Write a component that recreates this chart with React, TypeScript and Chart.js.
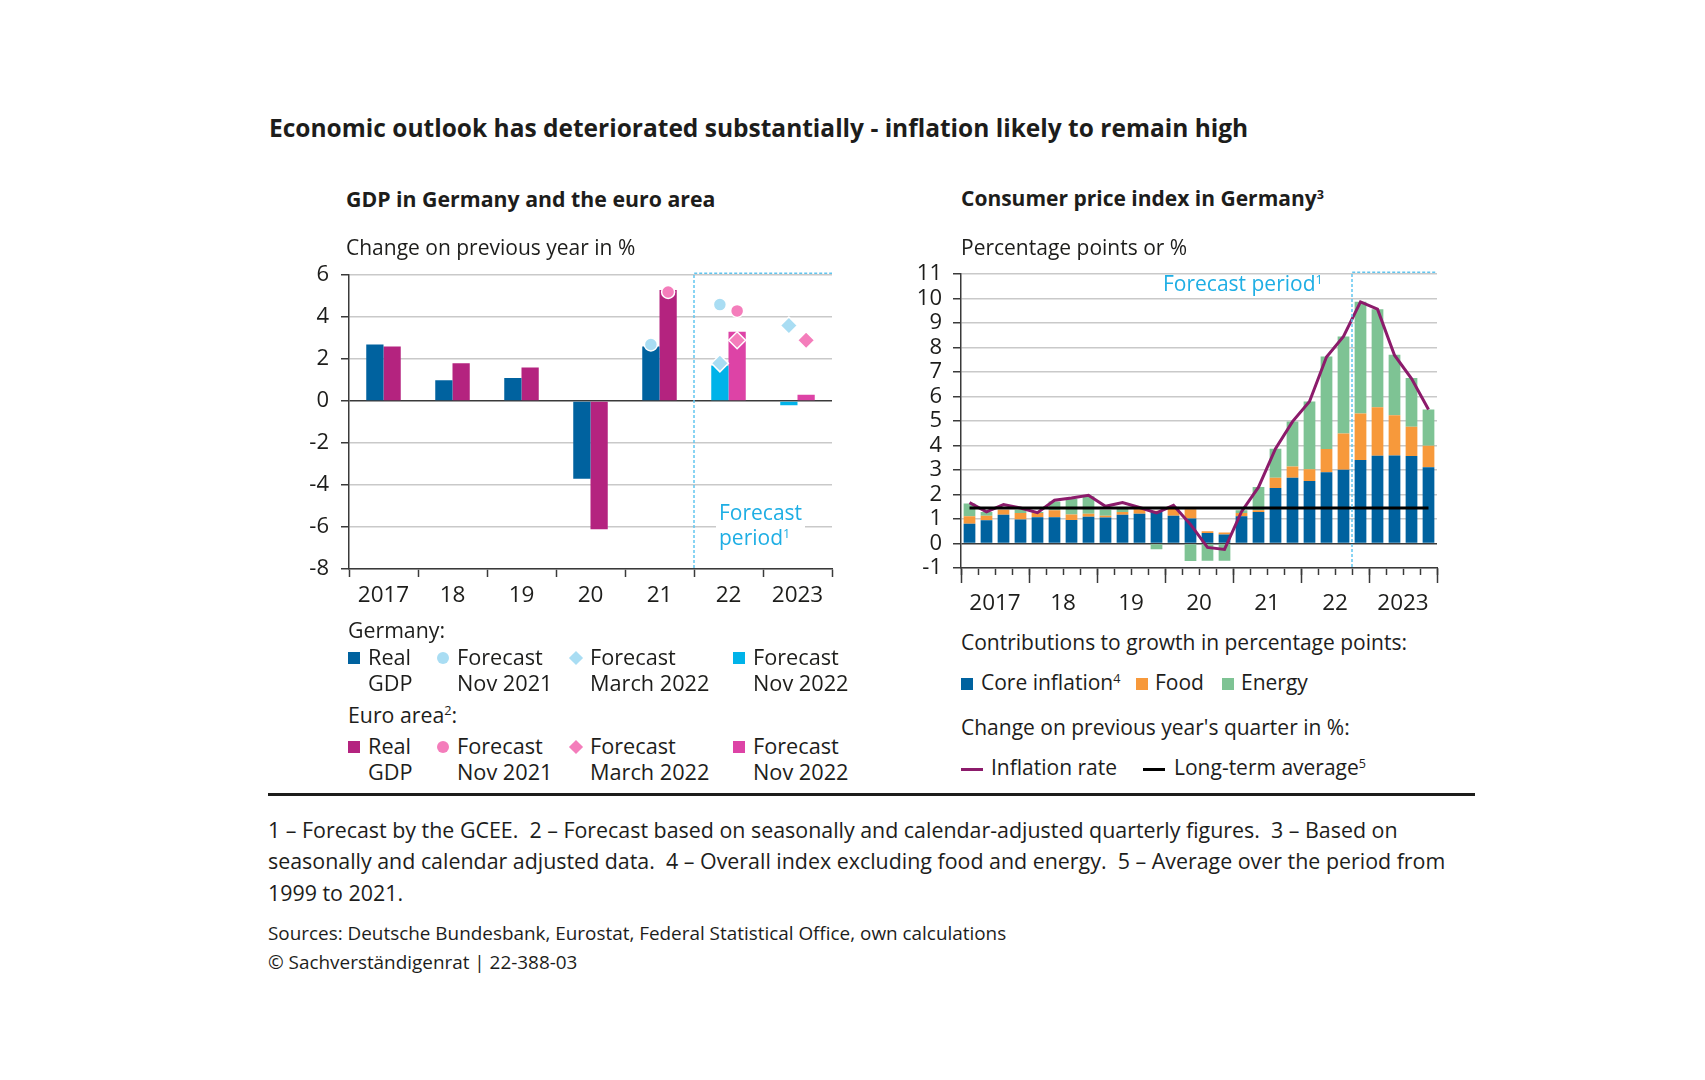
import React, { useEffect, useRef } from 'react';
import { Chart, registerables } from 'chart.js';

Chart.register(...registerables);

// ---------------- data ----------------
const gdpYears = ['2017', '18', '19', '20', '21', '22', '2023'];
const gdpForecastStart = '22';
const deRealGdp = [2.7, 1.0, 1.1, -3.7, 2.6, null, null];
const eaRealGdp = [2.6, 1.8, 1.6, -6.1, 5.3, null, null];
const deForecastNov2022 = [null, null, null, null, null, 1.7, -0.2];
const eaForecastNov2022 = [null, null, null, null, null, 3.3, 0.3];
const deForecastNov2021 = [null, null, null, null, 2.7, 4.6, null];
const eaForecastNov2021 = [null, null, null, null, 5.2, 4.3, null];
const deForecastMar2022 = [null, null, null, null, null, 1.8, 3.6];
const eaForecastMar2022 = [null, null, null, null, null, 2.9, 2.9];

const cpiQuarters = [
  '2017 Q1', '2017 Q2', '2017 Q3', '2017 Q4',
  '2018 Q1', '2018 Q2', '2018 Q3', '2018 Q4',
  '2019 Q1', '2019 Q2', '2019 Q3', '2019 Q4',
  '2020 Q1', '2020 Q2', '2020 Q3', '2020 Q4',
  '2021 Q1', '2021 Q2', '2021 Q3', '2021 Q4',
  '2022 Q1', '2022 Q2', '2022 Q3', '2022 Q4',
  '2023 Q1', '2023 Q2', '2023 Q3', '2023 Q4',
];
const cpiYearLabels = ['2017', '18', '19', '20', '21', '22', '2023'];
const cpiForecastStart = '2022 Q4';
const coreInflation = [0.81, 0.95, 1.18, 0.98, 1.07, 1.07, 0.96, 1.09, 1.06, 1.18, 1.22, 1.29, 1.13, 1.02, 0.43, 0.37, 1.11, 1.29, 2.27, 2.69, 2.55, 2.91, 3.01, 3.41, 3.58, 3.6, 3.57, 3.12];
const foodContribution = [0.3, 0.18, 0.2, 0.27, 0.18, 0.29, 0.23, 0.13, 0.07, 0.11, 0.18, 0.05, 0.3, 0.38, 0.07, 0.08, 0.14, 0.07, 0.42, 0.46, 0.48, 0.95, 1.48, 1.9, 1.99, 1.64, 1.2, 0.87];
const energyContribution = [0.52, 0.16, 0.0, 0.13, 0.04, 0.36, 0.64, 0.71, 0.25, 0.18, 0.05, -0.23, 0.07, -0.71, -0.7, -0.7, 0.11, 0.95, 1.18, 1.83, 2.77, 3.78, 3.97, 4.56, 4.0, 2.47, 1.99, 1.48];
const inflationRate = [1.67, 1.29, 1.59, 1.45, 1.26, 1.77, 1.86, 1.97, 1.52, 1.67, 1.47, 1.25, 1.56, 0.78, -0.16, -0.24, 1.3, 2.3, 3.87, 4.98, 5.8, 7.62, 8.46, 9.87, 9.57, 7.69, 6.74, 5.47];
const longTermAverage = 1.45;

// ---------------- styles ----------------
const FONT = '"Open Sans", "Noto Sans", Arial, sans-serif';
const INK = '#1d1d1b';
const GRID = '#c9c9c9';
const AXIS = '#3a3a3a';
const DE_BLUE = '#00629f';
const EA_PURPLE = '#b4237f';
const DE_FC = '#00b3e9';
const EA_FC = '#dd43a6';
const DE_LIGHT = '#a9ddf3';
const EA_LIGHT = '#f47dbb';
const CORE = '#00629f';
const FOOD = '#f7993b';
const ENERGY = '#7ec394';
const INFL = '#8c1b6b';
const FC_TEXT = '#1eaee4';
const FC_LINE = '#62c6ef';

Chart.defaults.font.family = FONT;
Chart.defaults.color = INK;

const yGridColor = (ctx: any) => (ctx.tick && ctx.tick.value === 0 ? AXIS : GRID);

function forecastBox(startLabel: string) {
  return {
    id: 'forecastBox',
    afterDatasetsDraw(chart: any) {
      const x = chart.scales.x;
      const i = x.getLabels().indexOf(startLabel);
      const bx = (x.getPixelForValue(i - 1) + x.getPixelForValue(i)) / 2;
      const { top, bottom, right } = chart.chartArea;
      const ctx = chart.ctx;
      ctx.save();
      ctx.strokeStyle = FC_LINE;
      ctx.lineWidth = 1.5;
      ctx.setLineDash([3, 2]);
      ctx.beginPath();
      ctx.moveTo(bx, bottom - 1);
      ctx.lineTo(bx, top - 2);
      ctx.lineTo(right, top - 2);
      ctx.stroke();
      ctx.restore();
    },
  };
}

const alignMarkers = {
  id: 'alignMarkers',
  afterDatasetsUpdate(chart: any) {
    const sets = chart.data.datasets;
    sets.forEach((ds: any, di: number) => {
      if (!ds.alignGroup) return;
      const meta = chart.getDatasetMeta(di);
      meta.data.forEach((pt: any, i: number) => {
        const bi = sets.findIndex((b: any) => b.barGroup === ds.alignGroup && b.data[i] != null);
        if (bi < 0) return;
        const bar = chart.getDatasetMeta(bi).data[i];
        if (bar) pt.x = bar.x;
      });
    });
  },
};

function marker(label: string, data: any[], group: string, style: string, color: string) {
  return {
    type: 'line',
    label,
    data,
    alignGroup: group,
    showLine: false,
    pointStyle: style,
    pointRadius: style === 'circle' ? 6.5 : 8.5,
    pointBackgroundColor: color,
    pointBorderColor: '#ffffff',
    pointBorderWidth: 1.5,
    order: 0,
  };
}

function GdpChart() {
  const ref = useRef<HTMLCanvasElement>(null);
  useEffect(() => {
    const chart = new Chart(ref.current as HTMLCanvasElement, {
      type: 'bar',
      data: {
        labels: gdpYears,
        datasets: [
          marker('Germany: Forecast Nov 2021', deForecastNov2021, 'DE', 'circle', DE_LIGHT),
          marker('Euro area: Forecast Nov 2021', eaForecastNov2021, 'EA', 'circle', EA_LIGHT),
          marker('Germany: Forecast March 2022', deForecastMar2022, 'DE', 'rectRot', DE_LIGHT),
          marker('Euro area: Forecast March 2022', eaForecastMar2022, 'EA', 'rectRot', EA_LIGHT),
          { label: 'Germany: Real GDP', data: deRealGdp, barGroup: 'DE', backgroundColor: DE_BLUE, order: 1 },
          { label: 'Euro area: Real GDP', data: eaRealGdp, barGroup: 'EA', backgroundColor: EA_PURPLE, order: 1 },
          { label: 'Germany: Forecast Nov 2022', data: deForecastNov2022, barGroup: 'DE', backgroundColor: DE_FC, order: 1 },
          { label: 'Euro area: Forecast Nov 2022', data: eaForecastNov2022, barGroup: 'EA', backgroundColor: EA_FC, order: 1 },
        ] as any,
      },
      options: {
        responsive: false,
        animation: false,
        layout: { padding: { top: 24, right: 13, bottom: 0, left: 0 } },
        plugins: { legend: { display: false }, tooltip: { enabled: false } },
        datasets: { bar: { skipNull: true, categoryPercentage: 0.5, barPercentage: 1, borderWidth: 0 } } as any,
        scales: {
          x: {
            grid: { drawOnChartArea: false, drawTicks: true, tickLength: 8, tickColor: AXIS, tickWidth: 1.5, offset: true },
            border: { color: AXIS, width: 1.5 },
            ticks: { color: INK, font: { family: FONT, size: 22.5 }, padding: 5, maxRotation: 0, autoSkip: false },
            afterFit: (s: any) => { s.height = 51; },
          },
          y: {
            min: -8,
            max: 6,
            ticks: { stepSize: 2, color: INK, font: { family: FONT, size: 22 }, padding: 12, autoSkip: false },
            grid: { color: yGridColor, lineWidth: 1.5, tickColor: AXIS, tickLength: 8, tickWidth: 1.5 },
            border: { color: AXIS, width: 1.5 },
            afterFit: (s: any) => { s.width = 79; },
          },
        },
      } as any,
      plugins: [alignMarkers, forecastBox(gdpForecastStart)],
    });
    return () => chart.destroy();
  }, []);
  return (
    <canvas ref={ref} width={575} height={370}
      style={{ position: 'absolute', left: 270, top: 250, width: 575, height: 370 }} />
  );
}

function CpiChart() {
  const ref = useRef<HTMLCanvasElement>(null);
  useEffect(() => {
    const chart = new Chart(ref.current as HTMLCanvasElement, {
      type: 'bar',
      data: {
        labels: cpiQuarters,
        datasets: [
          {
            type: 'line', label: 'Long-term average', stack: 'avg', xAxisID: 'x',
            data: [
              { x: cpiQuarters[0], y: longTermAverage },
              { x: cpiQuarters[cpiQuarters.length - 1], y: longTermAverage },
            ],
            borderColor: '#000000', borderWidth: 3, pointRadius: 0, order: 0,
          },
          {
            type: 'line', label: 'Inflation rate', stack: 'infl', xAxisID: 'x',
            data: inflationRate, borderColor: INFL, borderWidth: 3, pointRadius: 0, tension: 0, order: 1,
          },
          { label: 'Core inflation', data: coreInflation, backgroundColor: CORE, xAxisID: 'x', order: 2 },
          { label: 'Food', data: foodContribution, backgroundColor: FOOD, xAxisID: 'x', order: 2 },
          { label: 'Energy', data: energyContribution, backgroundColor: ENERGY, xAxisID: 'x', order: 2 },
        ] as any,
      },
      options: {
        responsive: false,
        animation: false,
        layout: { padding: { top: 23, right: 18, bottom: 0, left: 0 } },
        plugins: { legend: { display: false }, tooltip: { enabled: false } },
        datasets: { bar: { categoryPercentage: 1, barPercentage: 0.69, borderWidth: 0 } } as any,
        scales: {
          x: {
            stacked: true,
            grid: { drawOnChartArea: false, drawTicks: true, tickLength: 7, tickColor: AXIS, tickWidth: 1.5, offset: true },
            border: { color: AXIS, width: 1.5 },
            ticks: { display: false },
            afterFit: (s: any) => { s.height = 0; },
          },
          xYears: {
            type: 'category',
            position: 'bottom',
            labels: cpiYearLabels,
            offset: true,
            grid: { drawOnChartArea: false, drawTicks: true, tickLength: 15, tickColor: AXIS, tickWidth: 1.5, offset: true },
            border: { display: false },
            ticks: { color: INK, font: { family: FONT, size: 22.5 }, padding: 7, maxRotation: 0, autoSkip: false },
            afterFit: (s: any) => { s.height = 55; },
          },
          y: {
            stacked: true,
            min: -1,
            max: 11,
            ticks: { stepSize: 1, color: INK, font: { family: FONT, size: 22 }, padding: 11, autoSkip: false },
            grid: { color: yGridColor, lineWidth: 1.5, tickColor: AXIS, tickLength: 8, tickWidth: 1.5 },
            border: { color: AXIS, width: 1.5 },
            afterFit: (s: any) => { s.width = 81; },
          },
        },
      } as any,
      plugins: [forecastBox(cpiForecastStart)],
    });
    return () => chart.destroy();
  }, []);
  return (
    <canvas ref={ref} width={575} height={373}
      style={{ position: 'absolute', left: 880, top: 250, width: 575, height: 373 }} />
  );
}

// ---------------- text helpers ----------------
function T(props: { x: number; y: number; size: number; bold?: boolean; color?: string; lh?: number; bg?: string; pad?: string; children: any }) {
  const { x, y, size, bold, color, lh, bg, pad, children } = props;
  const L = lh ?? Math.round(size * 1.2);
  const top = y - L / 2 - 0.388 * size;
  return (
    <div style={{
      position: 'absolute', left: x, top, fontSize: size, lineHeight: `${L}px`,
      fontWeight: bold ? 700 : 400, color: color ?? INK, whiteSpace: 'pre', fontFamily: FONT,
      background: bg, padding: pad,
    }}>{children}</div>
  );
}

const Sup = ({ children }: { children: any }) => (
  <span style={{ fontSize: '0.6em', position: 'relative', top: '-0.6em' }}>{children}</span>
);

function Square({ x, y, color }: { x: number; y: number; color: string }) {
  return <div style={{ position: 'absolute', left: x, top: y - 6, width: 12, height: 12, background: color }} />;
}
function Dot({ x, y, color }: { x: number; y: number; color: string }) {
  return <div style={{ position: 'absolute', left: x - 6, top: y - 6, width: 12, height: 12, borderRadius: 6, background: color }} />;
}
function Diamond({ x, y, color }: { x: number; y: number; color: string }) {
  return <div style={{ position: 'absolute', left: x - 5, top: y - 5, width: 10, height: 10, background: color, transform: 'rotate(45deg)' }} />;
}
function LineKey({ x, y, color }: { x: number; y: number; color: string }) {
  return <div style={{ position: 'absolute', left: x, top: y - 1.5, width: 22, height: 3, background: color }} />;
}

const LEG = 21.7;

function GdpLegendRow({ y, colors }: { y: number; colors: string[] }) {
  const my = y - 7;
  const lh = 26;
  return (
    <>
      <Square x={348} y={my} color={colors[0]} />
      <T x={368} y={y} size={LEG} lh={lh}>{'Real\nGDP'}</T>
      <Dot x={443} y={my} color={colors[1]} />
      <T x={457} y={y} size={LEG} lh={lh}>{'Forecast\nNov 2021'}</T>
      <Diamond x={576} y={my} color={colors[2]} />
      <T x={590} y={y} size={LEG} lh={lh}>{'Forecast\nMarch 2022'}</T>
      <Square x={733} y={my} color={colors[3]} />
      <T x={753} y={y} size={LEG} lh={lh}>{'Forecast\nNov 2022'}</T>
    </>
  );
}

export default function App() {
  return (
    <div style={{ position: 'absolute', left: 0, top: 0, width: 1705, height: 1080, background: '#ffffff', overflow: 'hidden', fontFamily: FONT }}>
      <GdpChart />
      <CpiChart />

      <T x={269} y={137} size={24.5} bold>Economic outlook has deteriorated substantially - inflation likely to remain high</T>

      <T x={346} y={207} size={21.3} bold>GDP in Germany and the euro area</T>
      <T x={346} y={256} size={21}>Change on previous year in %</T>

      <T x={961} y={207} size={21} bold>Consumer price index in Germany<Sup>3</Sup></T>
      <T x={961} y={256} size={21}>Percentage points or %</T>

      <T x={716} y={521} size={21} lh={25} color={FC_TEXT} bg="#ffffff" pad="0 3px">{'Forecast\nperiod'}<Sup>1</Sup></T>
      <T x={1163} y={292} size={21} color={FC_TEXT}>Forecast period<Sup>1</Sup></T>

      <T x={348} y={638} size={21.3}>Germany:</T>
      <GdpLegendRow y={665} colors={[DE_BLUE, DE_LIGHT, DE_LIGHT, DE_FC]} />
      <T x={348} y={723} size={21.3}>Euro area<Sup>2</Sup>:</T>
      <GdpLegendRow y={754} colors={[EA_PURPLE, EA_LIGHT, EA_LIGHT, EA_FC]} />

      <T x={961} y={651} size={21}>Contributions to growth in percentage points:</T>
      <Square x={961} y={684} color={CORE} />
      <T x={981} y={691} size={21}>Core inflation<Sup>4</Sup></T>
      <Square x={1136} y={684} color={FOOD} />
      <T x={1155} y={691} size={21}>Food</T>
      <Square x={1222} y={684} color={ENERGY} />
      <T x={1241} y={691} size={21}>Energy</T>
      <T x={961} y={736} size={21}>Change on previous year's quarter in %:</T>
      <LineKey x={961} y={769} color={INFL} />
      <T x={991} y={776} size={21}>Inflation rate</T>
      <LineKey x={1143} y={769} color="#000000" />
      <T x={1174} y={776} size={21}>Long-term average<Sup>5</Sup></T>

      <div style={{ position: 'absolute', left: 268, top: 793, width: 1207, height: 3, background: INK }} />

      <T x={268} y={838} size={21.4} lh={31.5}>
        {'1 – Forecast by the GCEE.  2 – Forecast based on seasonally and calendar-adjusted quarterly figures.  3 – Based on\nseasonally and calendar adjusted data.  4 – Overall index excluding food and energy.  5 – Average over the period from\n1999 to 2021.'}
      </T>
      <T x={268} y={941} size={18.9} lh={29}>
        {'Sources: Deutsche Bundesbank, Eurostat, Federal Statistical Office, own calculations\n© Sachverständigenrat | 22-388-03'}
      </T>
    </div>
  );
}
